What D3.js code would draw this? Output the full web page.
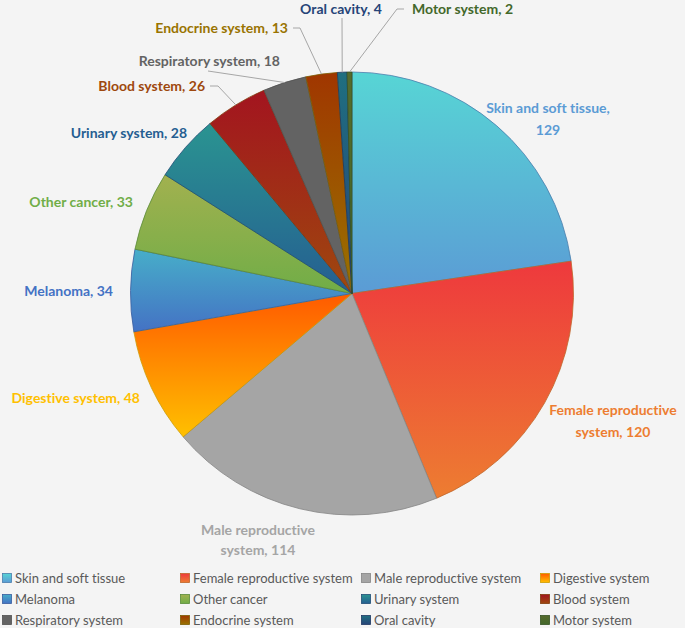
<!DOCTYPE html>
<html>
<head>
<meta charset="utf-8">
<script src="https://cdn.jsdelivr.net/npm/d3@7"></script>
<style>
  html, body { margin: 0; padding: 0; background: #f4f4f4; }
  svg { display: block; }
  text { font-variant-ligatures: none; font-feature-settings: "liga" 0; }
</style>
</head>
<body>
<svg id="chart" width="685" height="628"></svg>
<script>
// ---- data ----
const categories = ["Skin and soft tissue", "Female reproductive system", "Male reproductive system",
  "Digestive system", "Melanoma", "Other cancer", "Urinary system", "Blood system",
  "Respiratory system", "Endocrine system", "Oral cavity", "Motor system"];
const values = [129, 120, 114, 48, 34, 33, 28, 26, 18, 13, 4, 2];
const gradTop    = ["#57d5d5", "#ee393d", "#a5a5a5", "#ff5a00", "#47aec9", "#a2b14f", "#2a9491", "#a3141f", "#636363", "#a03600", "#1f6f80", "#566a2c"];
const gradBottom = ["#5b9bd5", "#ed7d31", "#a5a5a5", "#ffc000", "#4472c4", "#70ad47", "#255e91", "#9e480e", "#636363", "#997300", "#264478", "#43682b"];
const labelColors = ["#5b9bd5", "#ed7d31", "#a5a5a5", "#ffc000", "#4472c4", "#70ad47", "#255e91", "#9e480e", "#636363", "#997300", "#264478", "#43682b"];
// label text lines
const labelLines = [
  ["Skin and soft tissue,", "129"],
  ["Female reproductive", "system, 120"],
  ["Male reproductive", "system, 114"],
  ["Digestive system, 48"], ["Melanoma, 34"], ["Other cancer, 33"], ["Urinary system, 28"],
  ["Blood system, 26"], ["Respiratory system, 18"], ["Endocrine system, 13"],
  ["Oral cavity, 4"], ["Motor system, 2"]
];

// ---- layout (positions of label text, not data) ----
const labelLayout = [
  {x: 548, y: 108, anchor: "middle", gap: 22},
  {x: 613, y: 410, anchor: "middle", gap: 22},
  {x: 258, y: 530, anchor: "middle", gap: 20},
  {x: 140, y: 398, anchor: "end"},
  {x: 113, y: 291, anchor: "end"},
  {x: 133, y: 202, anchor: "end"},
  {x: 187, y: 133, anchor: "end"},
  {x: 205, y: 86,  anchor: "end", leader: [[210, 86], [218, 86]]},
  {x: 280, y: 61,  anchor: "end", leader: [[208, 71]]},
  {x: 288, y: 28,  anchor: "end", leader: [[293, 28], [300, 28]]},
  {x: 341, y: 9,   anchor: "middle", leader: [[342, 18]]},
  {x: 412, y: 9,   anchor: "start", leader: [[404, 9], [397, 9]]}
];

const svg = d3.select("#chart");
const W = 685, H = 628;
svg.append("rect").attr("width", W).attr("height", H).attr("fill", "#f4f4f4");

const cx = 352, cy = 293.5, R = 221.5;
const defs = svg.append("defs");
categories.forEach((c, i) => {
  const g = defs.append("linearGradient").attr("id", "g" + i)
    .attr("x1", 0).attr("y1", 0).attr("x2", 0).attr("y2", 1);
  g.append("stop").attr("offset", "0%").attr("stop-color", gradTop[i]);
  g.append("stop").attr("offset", "100%").attr("stop-color", gradBottom[i]);
});

const pie = d3.pie().sort(null).value(d => d.v);
const data = categories.map((c, i) => ({c, v: values[i], i}));
const arcs = pie(data);
const arc = d3.arc().innerRadius(0).outerRadius(R);

const gPie = svg.append("g").attr("transform", `translate(${cx},${cy})`);
gPie.selectAll("path").data(arcs).join("path")
  .attr("d", arc)
  .attr("fill", d => `url(#g${d.data.i})`)
  .attr("stroke", d => d3.color(gradBottom[d.data.i]).darker(0.6))
  .attr("stroke-width", 0.8)
  .attr("stroke-linejoin", "round");

// leader lines
const edgeArc = d3.arc().innerRadius(R).outerRadius(R);
arcs.forEach(d => {
  const L = labelLayout[d.data.i];
  if (!L.leader) return;
  const [ex, ey] = edgeArc.centroid(d);
  const pts = L.leader.concat([[cx + ex, cy + ey]]);
  svg.append("path")
    .attr("d", d3.line()(pts))
    .attr("fill", "none")
    .attr("stroke", "#a6a6a6")
    .attr("stroke-width", 1);
});

// labels
const labelFont = "Lato, 'Open Sans', sans-serif";
arcs.forEach(d => {
  const i = d.data.i, L = labelLayout[i];
  const t = svg.append("text")
    .attr("x", L.x).attr("y", L.y)
    .attr("text-anchor", L.anchor)
    .attr("font-family", labelFont)
    .attr("font-weight", "bold")
    .attr("font-size", 14)
    .attr("fill", labelColors[i]);
  labelLines[i].forEach((ln, k) => {
    t.append("tspan").attr("x", L.x).attr("y", L.y + k * (L.gap || 22))
      .attr("dy", "0.35em").text(ln);
  });
});

// legend
const legendCols = [2, 180, 361, 540];
const legendRows = [578, 599, 620];
const leg = svg.append("g");
categories.forEach((c, i) => {
  const col = i % 4, row = Math.floor(i / 4);
  const x = legendCols[col], y = legendRows[row];
  leg.append("rect").attr("x", x + 0.5).attr("y", y - 4.5).attr("width", 9).attr("height", 9)
    .attr("fill", `url(#g${i})`)
    .attr("stroke", d3.color(gradBottom[i]).darker(0.6)).attr("stroke-width", 0.8);
  leg.append("text").attr("x", x + 13).attr("y", y).attr("dy", "0.35em")
    .attr("font-family", "Lato, 'Open Sans', sans-serif")
    .attr("font-size", 13)
    .attr("fill", "#595959")
    .text(c);
});
</script>
</body>
</html>
